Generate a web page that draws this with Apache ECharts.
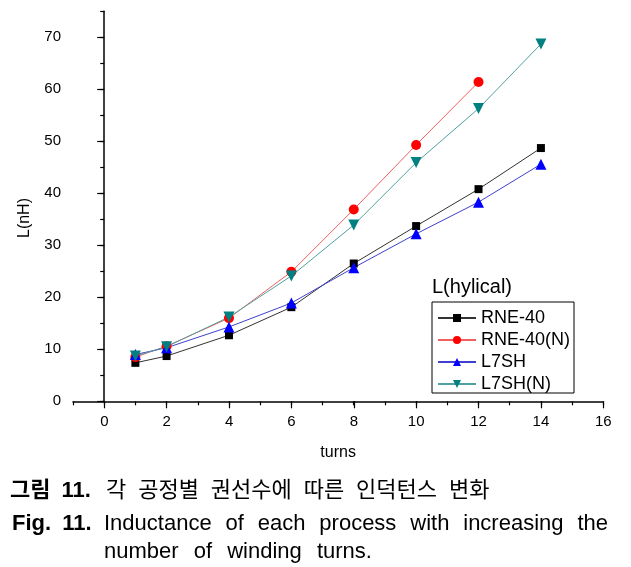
<!DOCTYPE html>
<html>
<head>
<meta charset="utf-8">
<script src="https://cdn.jsdelivr.net/npm/echarts@6/dist/echarts.min.js"></script>
<style>
  html, body { margin: 0; padding: 0; background: #fff; }
  #wrap { position: relative; width: 631px; height: 567px; overflow: hidden; }
  #chart { position: absolute; left: 0; top: 0; width: 631px; height: 567px; }
  .cap { position: absolute; color: #000; white-space: nowrap; line-height: 26px; transform-origin: 0 50%; }
  .ko { font-family: "Noto Sans CJK KR", sans-serif; font-size: 22px; }
  .en { font-family: "Liberation Sans", Arial, sans-serif; font-size: 22px; }
</style>
</head>
<body>
<div id="wrap">
  <div id="chart"></div>
  <div class="cap" style="left:10px; top:474px; font-family:'Liberation Sans',Arial,sans-serif; font-size:22px; font-weight:bold; word-spacing:5px;"><span style="font-family:'Noto Sans CJK KR',sans-serif;">그림</span> 11.</div>
  <div class="cap ko" style="left:106px; top:474px; word-spacing:7px;">각 공정별 권선수에 따른 인덕턴스 변화</div>
  <div class="cap en" style="left:12px; top:510px; font-weight:bold; word-spacing:5px;">Fig. 11.</div>
  <div class="cap en" style="left:104px; top:510px; width:504px; text-align:justify; text-align-last:justify; white-space:normal;">Inductance of each process with increasing the</div>
  <div class="cap en" style="left:104px; top:538px; word-spacing:9px;">number of winding turns.</div>
</div>
<script>
const turns = [1, 2, 4, 6, 8, 10, 12, 14];
const rne40 = [7.4, 8.7, 12.7, 18.1, 26.5, 33.7, 40.8, 48.7];
const rne40N = [8.5, 10.6, 16.0, 24.9, 36.9, 49.3, 61.4];
const l7sh = [9.0, 10.3, 14.3, 18.9, 25.7, 32.2, 38.3, 45.6];
const l7shN = [8.7, 10.5, 16.2, 24.1, 33.9, 45.9, 56.3, 68.7];
const seriesNames = ['RNE-40', 'RNE-40(N)', 'L7SH', 'L7SH(N)'];
const xTickLabels = [0, 2, 4, 6, 8, 10, 12, 14, 16];
const yTickLabels = [0, 10, 20, 30, 40, 50, 60, 70];

function pairs(vals) { return vals.map((v, i) => [turns[i], v]); }

const FONT = '"Liberation Sans", Arial, sans-serif';
const chart = echarts.init(document.getElementById('chart'));
const L = 73, R = 631 - 603.3, T = 11.3, B = 567 - 401.3;

chart.setOption({
  animation: false,
  backgroundColor: '#fff',
  grid: [
    { left: L, right: R, top: T, bottom: B },
    { left: 104.3, right: R, top: T, bottom: B },
    { left: L, right: R, top: 401.3 - 70 * 5.2, bottom: B }
  ],
  xAxis: [
    { type: 'value', gridIndex: 0, min: -1, max: 16, interval: 1,
      axisLine: { show: true, lineStyle: { color: '#000', width: 1.5 } },
      axisTick: { show: true, length: 4, lineStyle: { color: '#000', width: 1.2 } },
      axisLabel: { show: false }, splitLine: { show: false },
      name: 'turns', nameLocation: 'middle', nameGap: 43,
      nameTextStyle: { fontSize: 16, fontFamily: FONT, color: '#000' } },
    { type: 'value', gridIndex: 1, min: 0, max: 16, interval: 2,
      axisLine: { show: false },
      axisTick: { show: true, length: 7, lineStyle: { color: '#000', width: 1.2 } },
      axisLabel: { show: true, margin: 13, fontSize: 15, fontFamily: FONT, color: '#000',
        formatter: v => (xTickLabels.indexOf(v) >= 0 ? String(v) : '') },
      splitLine: { show: false } },
    { type: 'value', gridIndex: 2, min: -1, max: 16, show: false }
  ],
  yAxis: [
    { type: 'value', gridIndex: 0, min: 0, max: 75, interval: 5,
      axisLine: { show: true, lineStyle: { color: '#000', width: 1.5 } },
      axisTick: { show: true, length: 4, lineStyle: { color: '#000', width: 1.2 } },
      axisLabel: { show: false }, splitLine: { show: false } },
    { type: 'value', gridIndex: 1, min: 0, max: 75, show: false },
    { type: 'value', gridIndex: 2, min: 0, max: 70, interval: 10,
      axisLine: { show: false },
      axisTick: { show: true, length: 7, lineStyle: { color: '#000', width: 1.2 } },
      axisLabel: { show: true, margin: 12, fontSize: 15, fontFamily: FONT, color: '#000',
        formatter: v => (yTickLabels.indexOf(v) >= 0 ? String(v) : '') },
      splitLine: { show: false } }
  ],
  legend: {
    orient: 'vertical', left: 432, top: 302,
    data: seriesNames,
    borderColor: '#000', borderWidth: 1, padding: [7, 4, 0, 5],
    itemWidth: 38, itemHeight: 10, itemGap: 4,
    textStyle: { fontSize: 18, fontFamily: FONT, color: '#000' }
  },
  graphic: [
    { type: 'text', left: 432, top: 277,
      style: { text: 'L(hylical)', fontSize: 20, fontFamily: FONT, fill: '#000' } },
    { type: 'text', x: 25, y: 218, rotation: Math.PI / 2,
      style: { text: 'L(nH)', fontSize: 16, fontFamily: FONT, fill: '#000', align: 'center', verticalAlign: 'middle' } }
  ],
  series: [
    { name: seriesNames[0], type: 'line', data: pairs(rne40), symbol: 'rect', symbolSize: 8,
      itemStyle: { color: '#000' }, lineStyle: { color: '#333', width: 1 } },
    { name: seriesNames[1], type: 'line', data: pairs(rne40N), symbol: 'circle', symbolSize: 10,
      itemStyle: { color: '#ff0000' }, lineStyle: { color: '#f06060', width: 1 } },
    { name: seriesNames[2], type: 'line', data: pairs(l7sh), symbol: 'triangle', symbolSize: 11,
      itemStyle: { color: '#0000ff' }, lineStyle: { color: '#4040d0', width: 1 } },
    { name: seriesNames[3], type: 'line', data: pairs(l7shN), symbol: 'triangle', symbolRotate: 180, symbolSize: 11,
      itemStyle: { color: '#008080' }, lineStyle: { color: '#50a0a0', width: 1 } }
  ]
});
</script>
</body>
</html>
